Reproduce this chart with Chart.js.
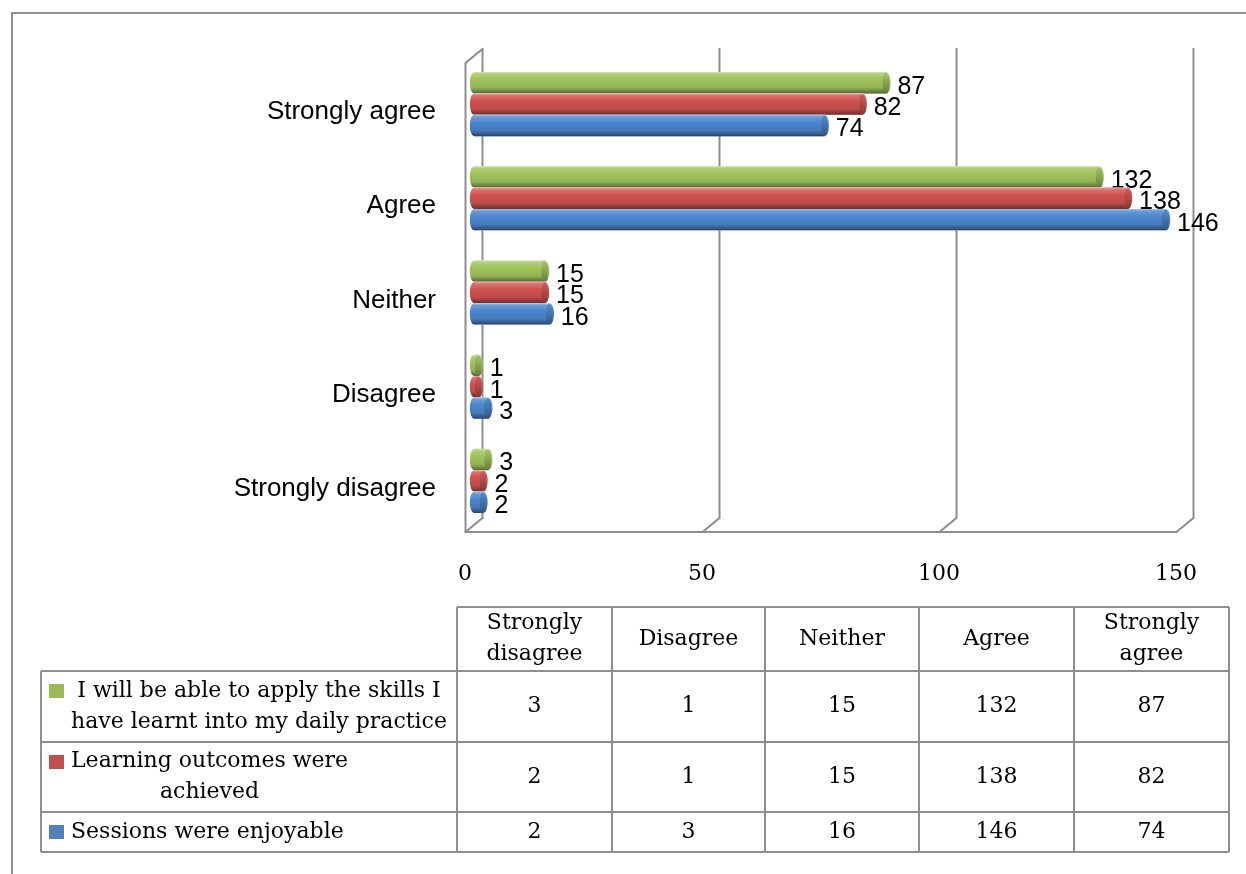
<!DOCTYPE html>
<html>
<head>
<meta charset="utf-8">
<style>
  html, body { margin: 0; padding: 0; background: #ffffff; }
  #wrap { position: relative; width: 1246px; height: 874px; overflow: hidden; }
  canvas { display: block; }
</style>
<script src="https://cdn.jsdelivr.net/npm/chart.js@4.4.1/dist/chart.umd.min.js"></script>
</head>
<body>
<div id="wrap"><canvas id="c" width="1246" height="874"></canvas></div>
<script>
// ---------------- DATA ----------------
const categories = ['Strongly disagree', 'Disagree', 'Neither', 'Agree', 'Strongly agree'];
const seriesNames = [
  'I will be able to apply the skills I have learnt into my daily practice',
  'Learning outcomes were achieved',
  'Sessions were enjoyable'
];
const seriesNameLines = [
  ['I will be able to apply the skills I', 'have learnt into my daily practice'],
  ['Learning outcomes were', 'achieved'],
  ['Sessions were enjoyable']
];
const applySkills = [3, 1, 15, 132, 87];
const outcomesAchieved = [2, 1, 15, 138, 82];
const sessionsEnjoyable = [2, 3, 16, 146, 74];
const xTicks = [0, 50, 100, 150];

// ---------------- STYLE ----------------
const keyColors = ['#9BBB59', '#C0504D', '#4F81BD'];
const barColors = ['#9fc35c', '#d0534f', '#4c86cc'];
const lineGray = '#8e8e8e';
const serif = '"DejaVu Serif", "Liberation Serif", serif';
const sans = '"Liberation Sans", Arial, sans-serif';

function shade(hex, f) {
  const n = parseInt(hex.slice(1), 16);
  let r = (n >> 16) & 255, g = (n >> 8) & 255, b = n & 255;
  if (f >= 0) { r += (255 - r) * f; g += (255 - g) * f; b += (255 - b) * f; }
  else { r *= (1 + f); g *= (1 + f); b *= (1 + f); }
  return 'rgb(' + Math.round(r) + ',' + Math.round(g) + ',' + Math.round(b) + ')';
}

function wrapText(ctx, text, maxW) {
  const words = text.split(' ');
  const lines = [];
  let cur = '';
  for (const w of words) {
    const t = cur ? cur + ' ' + w : w;
    if (ctx.measureText(t).width > maxW && cur) { lines.push(cur); cur = w; }
    else cur = t;
  }
  if (cur) lines.push(cur);
  return lines;
}

// 3D frame (walls / gridlines) drawn from the x scale
const framePlugin = {
  id: 'frame3d',
  beforeDatasetsDraw(chart) {
    const ctx = chart.ctx;
    const xs = chart.scales.x;
    const ca = chart.chartArea;
    const dx = -17, dy = 14;            // back -> front offset
    const backTop = ca.top - 8;
    const backBottom = ca.bottom - 10;
    ctx.save();
    ctx.strokeStyle = lineGray;
    ctx.lineWidth = 2;
    ctx.lineCap = 'square';
    ctx.beginPath();
    xTicks.forEach(v => {
      const bx = Math.round(xs.getPixelForValue(v) + 8) + 0.5;
      ctx.moveTo(bx, backTop);
      ctx.lineTo(bx, backBottom);
      ctx.moveTo(bx, backBottom);
      ctx.lineTo(bx + dx, backBottom + dy);
    });
    const b0 = Math.round(xs.getPixelForValue(0) + 8) + 0.5;
    const bN = Math.round(xs.getPixelForValue(xTicks[xTicks.length - 1]) + 8) + 0.5;
    ctx.moveTo(b0, backTop);
    ctx.lineTo(b0 + dx, backTop + dy);
    ctx.lineTo(b0 + dx, backBottom + dy);
    ctx.lineTo(bN + dx, backBottom + dy);
    ctx.stroke();
    ctx.restore();
  }
};

// cylinder shading of bars + value labels
const cylinderPlugin = {
  id: 'cylinders',
  afterDatasetsDraw(chart) {
    const ctx = chart.ctx;
    ctx.save();
    chart.data.datasets.forEach((ds, di) => {
      const meta = chart.getDatasetMeta(di);
      const c = barColors[di];
      meta.data.forEach((el, i) => {
        const p = el.getProps(['x', 'y', 'base', 'height'], true);
        const h = p.height, yc = p.y, top = yc - h / 2;
        const x0 = p.base, x1 = p.x;
        const rx = 4.2, ry = h / 2;
        ctx.fillStyle = '#ffffff';
        ctx.fillRect(x0 - 1, top, x1 - x0 + 2, h);
        const g = ctx.createLinearGradient(0, top, 0, top + h);
        g.addColorStop(0, shade(c, 0.5));
        g.addColorStop(0.1, shade(c, 0.18));
        g.addColorStop(0.35, c);
        g.addColorStop(0.72, shade(c, -0.08));
        g.addColorStop(0.9, shade(c, -0.32));
        g.addColorStop(1, shade(c, -0.5));
        ctx.beginPath();
        ctx.moveTo(x0, top);
        ctx.lineTo(x1, top);
        ctx.ellipse(x1, yc, rx, ry, 0, -Math.PI / 2, Math.PI / 2);
        ctx.lineTo(x0, top + h);
        ctx.ellipse(x0, yc, rx, ry, 0, Math.PI / 2, Math.PI * 1.5);
        ctx.closePath();
        ctx.fillStyle = g;
        ctx.fill();
        const g2 = ctx.createLinearGradient(0, top, 0, top + h);
        g2.addColorStop(0, shade(c, 0.05));
        g2.addColorStop(1, shade(c, -0.35));
        ctx.beginPath();
        ctx.ellipse(x1 - 0.5, yc, rx - 0.8, ry - 0.8, 0, 0, Math.PI * 2);
        ctx.fillStyle = g2;
        ctx.fill();
        ctx.fillStyle = '#000000';
        ctx.font = '25px ' + sans;
        ctx.textAlign = 'left';
        ctx.textBaseline = 'middle';
        ctx.fillText(String(ds.data[i]), x1 + 11, yc + 4);
      });
    });
    ctx.restore();
  }
};

// outer border + data table with legend keys
const tablePlugin = {
  id: 'dataTable',
  afterDraw(chart) {
    const ctx = chart.ctx;
    ctx.save();
    ctx.strokeStyle = lineGray;
    ctx.lineWidth = 2;
    ctx.beginPath();
    ctx.moveTo(12, 874);
    ctx.lineTo(12, 13);
    ctx.lineTo(1246, 13);
    ctx.stroke();

    const colX = [457, 612, 765, 919, 1074, 1229];
    const tableLeft = 41;
    const rowY = [607, 671, 742, 812, 852];
    ctx.lineWidth = 2;
    ctx.strokeStyle = lineGray;
    ctx.beginPath();
    ctx.moveTo(colX[0], rowY[0]); ctx.lineTo(colX[5], rowY[0]);
    for (let r = 1; r < rowY.length; r++) {
      ctx.moveTo(tableLeft, rowY[r]); ctx.lineTo(colX[5], rowY[r]);
    }
    ctx.moveTo(tableLeft, rowY[1]); ctx.lineTo(tableLeft, rowY[4]);
    colX.forEach(x => { ctx.moveTo(x, rowY[0]); ctx.lineTo(x, rowY[4]); });
    ctx.stroke();

    ctx.fillStyle = '#000000';
    ctx.font = '22px ' + serif;
    ctx.textBaseline = 'middle';
    ctx.textAlign = 'center';
    const lh = 31;
    categories.forEach((cat, ci) => {
      const cx = (colX[ci] + colX[ci + 1]) / 2;
      const lines = wrapText(ctx, cat, colX[ci + 1] - colX[ci] - 14);
      const cy = (rowY[0] + rowY[1]) / 2;
      lines.forEach((ln, k) => {
        ctx.fillText(ln, cx, cy + (k - (lines.length - 1) / 2) * lh);
      });
    });
    const series = [applySkills, outcomesAchieved, sessionsEnjoyable];
    series.forEach((vals, si) => {
      const cy = (rowY[si + 1] + rowY[si + 2]) / 2;
      vals.forEach((v, ci) => {
        ctx.textAlign = 'center';
        ctx.fillText(String(v), (colX[ci] + colX[ci + 1]) / 2, cy);
      });
      const lines = seriesNameLines[si];
      const maxW = Math.max(...lines.map(l => ctx.measureText(l).width));
      const blockC = 71 + maxW / 2;
      lines.forEach((ln, k) => {
        ctx.textAlign = 'center';
        ctx.fillText(ln, blockC, cy + (k - (lines.length - 1) / 2) * lh);
      });
      const ky = cy - (lines.length - 1) / 2 * lh;
      ctx.fillStyle = keyColors[si];
      ctx.fillRect(49, Math.round(ky - 7), 15, 14);
      ctx.fillStyle = '#000000';
    });
    ctx.restore();
  }
};

Chart.defaults.font.family = sans;
Chart.defaults.color = '#000000';

new Chart(document.getElementById('c'), {
  type: 'bar',
  data: {
    labels: categories,
    datasets: [
      { label: seriesNames[0], data: applySkills, backgroundColor: barColors[0] },
      { label: seriesNames[1], data: outcomesAchieved, backgroundColor: barColors[1] },
      { label: seriesNames[2], data: sessionsEnjoyable, backgroundColor: barColors[2] }
    ]
  },
  options: {
    indexAxis: 'y',
    responsive: false,
    animation: false,
    devicePixelRatio: 1,
    layout: { padding: { top: 57, right: 61, bottom: 286, left: 0 } },
    datasets: { bar: { categoryPercentage: 0.68, barPercentage: 1.0, borderWidth: 0 } },
    plugins: { legend: { display: false }, tooltip: { enabled: false } },
    scales: {
      y: {
        reverse: true,
        grid: { display: false },
        border: { display: false },
        ticks: { font: { size: 26, family: sans }, color: '#000', padding: 30, labelOffset: 8 },
        afterFit: s => { s.width = 474; }
      },
      x: {
        min: 0, max: 150,
        grid: { display: false },
        border: { display: false },
        ticks: { stepSize: 50, font: { size: 22, family: serif }, color: '#000', padding: 25, labelOffset: -9, maxRotation: 0 },
        afterFit: s => { s.height = 60; }
      }
    }
  },
  plugins: [framePlugin, cylinderPlugin, tablePlugin]
});
</script>
</body>
</html>
